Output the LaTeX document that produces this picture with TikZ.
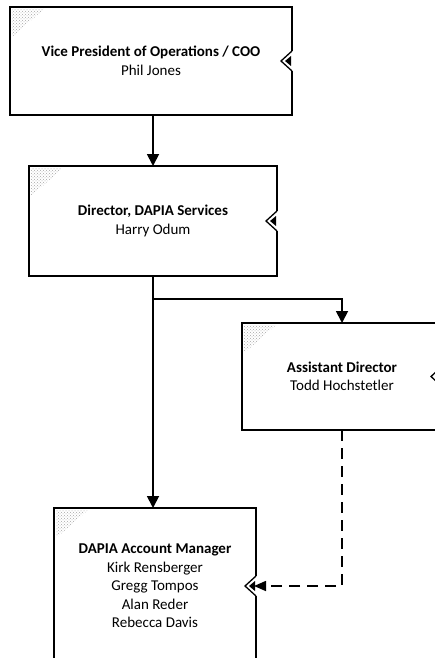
\documentclass[tikz,border=0pt]{standalone}
\usepackage{fontspec}
\setmainfont{Carlito}
\usetikzlibrary{arrows.meta,patterns}
\newcommand{\boxnotch}[1]{%
  \fill[white] ([xshift=-1.5pt,yshift=-10pt]#1.east) rectangle ([xshift=1.5pt,yshift=10pt]#1.east);
  \draw[line width=1.3pt,line join=miter] ([yshift=10pt]#1.east) -- ([xshift=-11pt]#1.east) -- ([yshift=-10pt]#1.east);
  \fill ([xshift=-7pt]#1.east) -- ([xshift=-1pt,yshift=5pt]#1.east) -- ([xshift=-1pt,yshift=-5pt]#1.east) -- cycle;
}
\newcommand{\corner}[1]{%
  \fill[pattern=crosshatch dots,pattern color=black!35] ([shift={(2pt,-2pt)}]#1.north west) -- ++(32,0) -- ++(-32,28) -- cycle;
}
\tikzset{
  orgbox/.style={draw,rectangle,line width=1.8pt,inner sep=0pt,outer sep=0pt,align=center,font=\fontsize{15}{18.5}\selectfont},
  conn/.style={line width=1.8pt,-{Triangle[length=12pt,width=12pt]}},
  dconn/.style={line width=1.6pt,dash pattern=on 11pt off 7pt,-{Triangle[length=12pt,width=10pt]}}
}
\begin{document}
\begin{tikzpicture}[x=1pt,y=-1pt]
\useasboundingbox (0,0) rectangle (434,658);
\node[orgbox,minimum width=282pt,minimum height=108pt] (vp) at (151,61) {\textbf{Vice President of Operations / COO}\\Phil Jones};
\node[orgbox,minimum width=248pt,minimum height=110pt] (dir) at (153,221) {\textbf{Director, DAPIA Services}\\Harry Odum};
\node[orgbox,minimum width=200pt,minimum height=107pt] (asst) at (342,376.5) {\textbf{Assistant Director}\\Todd Hochstetler};
\node[orgbox,minimum width=202pt,minimum height=156pt] (acct) at (155,586) {\textbf{DAPIA Account Manager}\\Kirk Rensberger\\Gregg Tompos\\Alan Reder\\Rebecca Davis};
\foreach \b in {vp,dir,asst,acct} {\boxnotch{\b}\corner{\b}}
\coordinate (split) at (153,299);
\coordinate (acctin) at ([xshift=-2pt]acct.east);
\draw[conn] (dir.north |- vp.south) -- (dir.north);
\draw[conn] (dir.south) -- (dir.south |- acct.north);
\draw[conn] (split) -| (asst.north);
\draw[dconn] (asst.south) |- (acctin);
\end{tikzpicture}
\end{document}
